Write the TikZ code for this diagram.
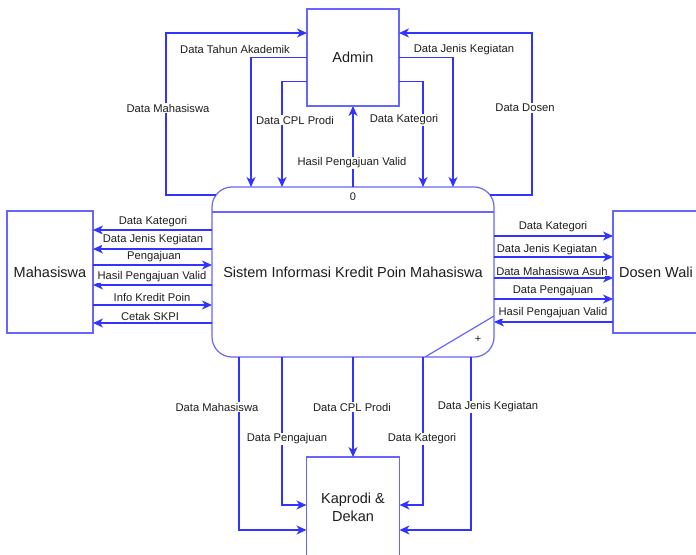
\documentclass[tikz,border=0pt]{standalone}
\usepackage{fontspec}
\setmainfont{Liberation Sans}
\usetikzlibrary{arrows.meta,calc}
\definecolor{boxc}{RGB}{102,102,255}
\definecolor{flowc}{RGB}{51,51,255}
\definecolor{txt}{RGB}{30,30,30}
\begin{document}
\begin{tikzpicture}[x=1bp,y=-1bp,
  box/.style={draw=boxc,line width=1.2bp,fill=white,inner sep=0pt,outer sep=0pt,
    font=\fontsize{14.5bp}{18bp}\selectfont,text=txt,align=center},
  flow/.style={draw=flowc,line width=1.3bp,-{Stealth[length=10bp,width=9bp,inset=3bp]}},
  lbl/.style={fill=white,inner sep=0.6bp,font=\fontsize{11.2bp}{13bp}\selectfont,text=txt},
  small/.style={inner sep=0pt,font=\fontsize{11bp}{13bp}\selectfont,text=txt}]
\useasboundingbox (0,0) rectangle (696,555);
\fill[white] (0,0) rectangle (696,555);
\clip (0,0) rectangle (696,555);

% boxes
\node[box,minimum width=92bp,minimum height=97bp] (admin) at (353,57.5) {Admin};
\node[box,minimum width=86bp,minimum height=122bp] (mhs) at (50,272) {Mahasiswa};
\node[box,minimum width=86bp,minimum height=122bp] (dosen) at (656,272) {Dosen Wali};
\node[box,minimum width=93bp,minimum height=101bp] (kap) at (353,507.5) {Kaprodi \&\\Dekan};
\node[box,rounded corners=20bp,minimum width=282bp,minimum height=170bp] (proc) at (353,272) {Sistem Informasi Kredit Poin Mahasiswa};
\draw[boxc,line width=1.2bp] ([yshift=60bp]proc.west) -- ([yshift=60bp]proc.east);
\draw[boxc,line width=1.2bp] ([yshift=-44bp]proc.east) -- ([xshift=72bp]proc.south);
\node[small] (pid) at ([yshift=75bp]proc.center) {0};
\node[small] (pplus) at ([xshift=125bp,yshift=-67bp]proc.center) {+};

% top flows
\draw[flow] ([xshift=4bp,yshift=77bp]proc.west) -| ([xshift=-141bp,yshift=24.5bp]admin.west) -- ([yshift=24.5bp]admin.west);
\draw[flow] (admin.west) -| ([xshift=-102bp]proc.north);
\draw[flow] ([yshift=-24bp]admin.west) -| ([xshift=-71bp]proc.north);
\draw[flow] (proc.north) -- (admin.south);
\draw[flow] ([yshift=-24bp]admin.east) -| ([xshift=70bp]proc.north);
\draw[flow] (admin.east) -| ([xshift=100bp]proc.north);
\draw[flow] ([xshift=-4bp,yshift=77bp]proc.east) -| ([xshift=133bp,yshift=24.5bp]admin.east) -- ([yshift=24.5bp]admin.east);

% left flows
\draw[flow] ([yshift=42bp]proc.west) -- ([yshift=42bp]mhs.east);
\draw[flow] ([yshift=23bp]proc.west) -- ([yshift=23bp]mhs.east);
\draw[flow] ([yshift=7bp]mhs.east) -- ([yshift=7bp]proc.west);
\draw[flow] ([yshift=-13bp]proc.west) -- ([yshift=-13bp]mhs.east);
\draw[flow] ([yshift=-33bp]mhs.east) -- ([yshift=-33bp]proc.west);
\draw[flow] ([yshift=-51bp]proc.west) -- ([yshift=-51bp]mhs.east);

% right flows
\draw[flow] ([yshift=36bp]proc.east) -- ([yshift=36bp]dosen.west);
\draw[flow] ([yshift=15bp]proc.east) -- ([yshift=15bp]dosen.west);
\draw[flow] ([yshift=-6bp]proc.east) -- ([yshift=-6bp]dosen.west);
\draw[flow] ([yshift=-27bp]proc.east) -- ([yshift=-27bp]dosen.west);
\draw[flow] ([yshift=-50bp]dosen.west) -- ([yshift=-50bp]proc.east);

% bottom flows
\draw[flow] ([xshift=-114bp]proc.south) |- ([yshift=-22.5bp]kap.west);
\draw[flow] ([xshift=-71bp]proc.south) |- ([yshift=2.5bp]kap.west);
\draw[flow] (proc.south) -- (kap.north);
\draw[flow] ([xshift=70bp]proc.south) |- ([yshift=2.5bp]kap.east);
\draw[flow] ([xshift=118bp]proc.south) |- ([yshift=-22.5bp]kap.east);

% labels top
\node[lbl] (t1) at (235,50) {Data Tahun Akademik};
\node[lbl] (t2) at (464,50) {Data Jenis Kegiatan};
\node[lbl] (t3) at (168,108) {Data Mahasiswa};
\node[lbl] (t4) at (525,108) {Data Dosen};
\node[lbl] (t5) at (295,120) {Data CPL Prodi};
\node[lbl] (t6) at (404,120) {Data Kategori};
\node[lbl] (t7) at (352,163) {Hasil Pengajuan Valid};
% labels left
\node[lbl] (m1) at (153,222) {Data Kategori};
\node[lbl] (m2) at (153,240) {Data Jenis Kegiatan};
\node[lbl] (m3) at (154,257) {Pengajuan};
\node[lbl] (m4) at (152,277) {Hasil Pengajuan Valid};
\node[lbl] (m5) at (152,297) {Info Kredit Poin};
\node[lbl] (m6) at (150,316) {Cetak SKPI};
% labels right
\node[lbl] (d1) at (553,227) {Data Kategori};
\node[lbl] (d2) at (547,250) {Data Jenis Kegiatan};
\node[lbl] (d3) at (552,271) {Data Mahasiswa Asuh};
\node[lbl] (d4) at (553,291) {Data Pengajuan};
\node[lbl] (d5) at (553,313) {Hasil Pengajuan Valid};
% labels bottom
\node[lbl] (b1) at (217,407) {Data Mahasiswa};
\node[lbl] (b2) at (287,439) {Data Pengajuan};
\node[lbl] (b3) at (352,407) {Data CPL Prodi};
\node[lbl] (b4) at (422,439) {Data Kategori};
\node[lbl] (b5) at (488,407) {Data Jenis Kegiatan};
\end{tikzpicture}
\end{document}
